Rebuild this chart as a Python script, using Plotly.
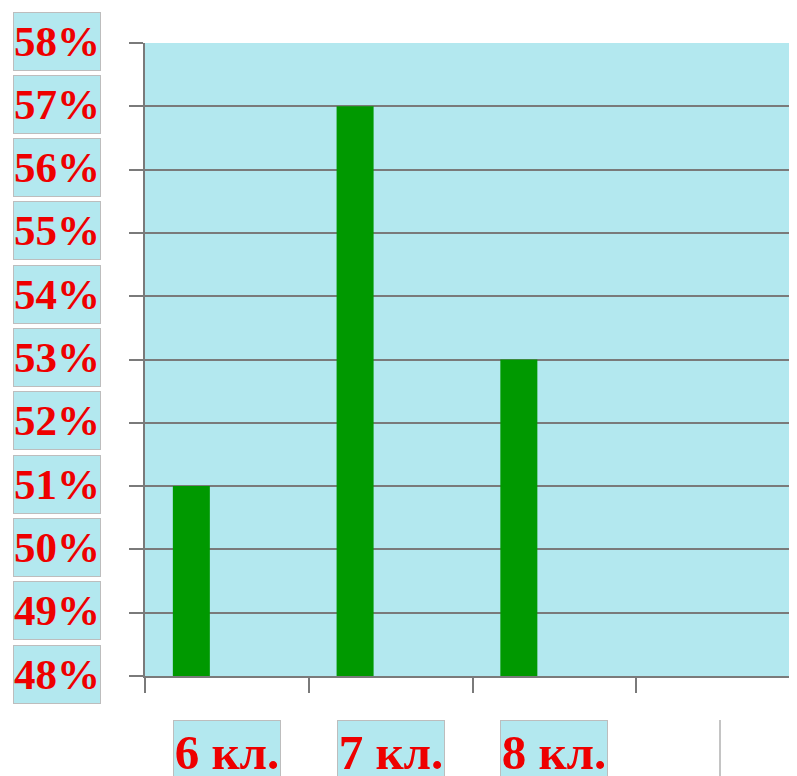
import plotly.graph_objects as go

categories = ["6 кл.", "7 кл.", "8 кл."]
values = [51, 57, 53]
tick_values = [58, 57, 56, 55, 54, 53, 52, 51, 50, 49, 48]
tick_labels = ["58%", "57%", "56%", "55%", "54%", "53%", "52%", "51%", "50%", "49%", "48%"]

OFF = 8  # page body margin
W, H = 797 - OFF, 776 - OFF
L, T = 145 - OFF, 43 - OFF
BOTTOM = 676 - OFF
B = H - BOTTOM
plot_w = W - L
plot_h = BOTTOM - T

RED = "#ee0000"
BOXBG = "#b3e8ef"
BOXLINE = "#bdbdbd"
GRID = "#7a7a7a"
FONT = "Liberation Serif"

fig = go.Figure()
fig.add_trace(go.Bar(
    x=categories, y=values, base=0,
    width=0.226, offset=-0.33,
    marker=dict(color="#009900", line=dict(width=0)),
    hoverinfo="skip",
))

annotations = []
for v, lab in zip(tick_values, tick_labels):
    annotations.append(dict(
        x=(101 - OFF - L) / plot_w, xref="paper", xanchor="right",
        y=v, yref="y", yanchor="middle", yshift=2,
        text="<b>%s</b>" % lab, showarrow=False,
        font=dict(family=FONT, size=43, color=RED),
        width=86, height=57, align="center", valign="middle",
        bgcolor=BOXBG, bordercolor=BOXLINE, borderwidth=1, borderpad=0,
    ))
lab_top = -(720 - OFF - BOTTOM) / plot_h
for c in categories:
    annotations.append(dict(
        x=c, xref="x", xanchor="center",
        y=lab_top, yref="paper", yanchor="top",
        text="<b>%s</b>" % c, showarrow=False,
        font=dict(family=FONT, size=49, color=RED),
        width=106, height=62, align="center", valign="middle",
        bgcolor=BOXBG, bordercolor=BOXLINE, borderwidth=1, borderpad=0,
    ))

fig.update_layout(
    width=W, height=H,
    margin=dict(l=L, r=0, t=T, b=B, pad=0),
    paper_bgcolor="white", plot_bgcolor=BOXBG,
    showlegend=False,
    annotations=annotations,
    shapes=[dict(type="line", xref="paper", yref="paper",
                 x0=(720 - OFF - L) / plot_w, x1=(720 - OFF - L) / plot_w,
                 y0=lab_top, y1=-(H - BOTTOM) / plot_h,
                 line=dict(color="#b0b0b0", width=1.5))],
    xaxis=dict(
        type="category", range=[-0.5, -0.5 + plot_w / 163.75],
        showticklabels=False, showgrid=False,
        showline=True, linecolor=GRID, linewidth=1.5,
        ticks="outside", tickson="boundaries", ticklen=15, tickwidth=1.5, tickcolor=GRID,
        zeroline=False,
    ),
    yaxis=dict(
        range=[48, 58], dtick=1, tick0=48,
        showticklabels=False,
        showgrid=True, gridcolor=GRID, gridwidth=1.5,
        showline=True, linecolor=GRID, linewidth=1.5,
        ticks="outside", ticklen=14, tickwidth=1.5, tickcolor=GRID,
        zeroline=False,
    ),
)

fig.write_html("out.html")
